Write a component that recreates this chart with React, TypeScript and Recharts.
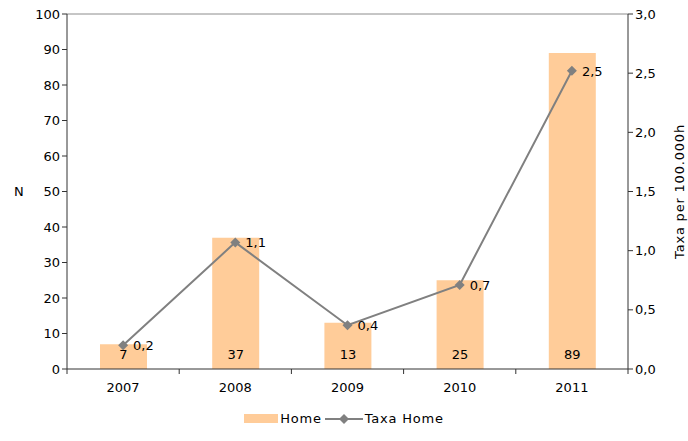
import {
  ComposedChart,
  Bar,
  Line,
  XAxis,
  YAxis,
  Legend,
  LabelList,
  ReferenceLine,
} from "recharts";

const years = ["2007", "2008", "2009", "2010", "2011"];
const homeCounts = [7, 37, 13, 25, 89];
const homeRates = [0.2, 1.07, 0.37, 0.71, 2.52];
const leftTicks = [0, 10, 20, 30, 40, 50, 60, 70, 80, 90, 100];
const rightTicks = [0, 0.5, 1, 1.5, 2, 2.5, 3];

const data = years.map((year, i) => ({
  year,
  home: homeCounts[i],
  taxa: homeRates[i],
}));

const W = 688;
const H = 441;
const LEFT_W = 67;
const RIGHT_W = 60;
const FONT = "'DejaVu Sans', Verdana, sans-serif";
const BAR_COLOR = "#ffcc99";
const LINE_COLOR = "#808080";
const AXIS_COLOR = "#333333";

const comma = (v: number) => v.toFixed(1).replace(".", ",");

const step = (W - LEFT_W - RIGHT_W) / years.length;

function YearTick(props: any) {
  const { x, y, payload, index } = props;
  return (
    <g>
      <line x1={x - step / 2} x2={x - step / 2} y1={y - 8} y2={y - 3} stroke={AXIS_COLOR} />
      {index === years.length - 1 && (
        <line x1={x + step / 2} x2={x + step / 2} y1={y - 8} y2={y - 3} stroke={AXIS_COLOR} />
      )}
      <text x={x} y={y + 15} textAnchor="middle" fontSize={13} fill="#000">
        {payload.value}
      </text>
    </g>
  );
}

function BarValue(props: any) {
  const { x, y, width, height, value } = props;
  return (
    <text x={x + width / 2} y={y + height - 10} textAnchor="middle" fontSize={13} fill="#000">
      {value}
    </text>
  );
}

function RateValue(props: any) {
  const { x, y, value } = props;
  return (
    <text x={x + 10} y={y + 5} textAnchor="start" fontSize={13} fill="#000">
      {comma(value)}
    </text>
  );
}

function RightTitle(props: any) {
  const { viewBox } = props;
  const x = viewBox.x + viewBox.width - 4;
  const y = viewBox.y + viewBox.height / 2;
  return (
    <text
      x={x}
      y={y}
      transform={`rotate(-90, ${x}, ${y})`}
      textAnchor="middle"
      fontSize={13}
      letterSpacing={0.8}
      fill="#000"
    >
      Taxa per 100.000h
    </text>
  );
}

function Diamond(props: any) {
  const { cx, cy } = props;
  if (cx == null || cy == null) return null;
  return (
    <path
      d={`M${cx},${cy - 5}L${cx + 5},${cy}L${cx},${cy + 5}L${cx - 5},${cy}Z`}
      fill={LINE_COLOR}
    />
  );
}

function LegendBox() {
  return (
    <div
      style={{
        display: "flex",
        justifyContent: "center",
        alignItems: "center",
        fontSize: 13,
        letterSpacing: 0.8,
        fontFamily: FONT,
        color: "#000",
      }}
    >
      <span style={{ display: "inline-block", width: 34, height: 9, background: BAR_COLOR, marginRight: 2 }} />
      <span style={{ marginRight: 3 }}>Home</span>
      <svg width={38} height={12} style={{ marginRight: 2 }}>
        <line x1={0} x2={38} y1={6} y2={6} stroke={LINE_COLOR} strokeWidth={2} />
        <path d="M19,1L24,6L19,11L14,6Z" fill={LINE_COLOR} />
      </svg>
      <span>Taxa Home</span>
    </div>
  );
}

export default function App() {
  return (
    <div style={{ position: "absolute", left: 0, top: 0, width: W, height: H, background: "#fff", fontFamily: FONT }}>
      <ComposedChart
        width={W}
        height={H}
        data={data}
        margin={{ top: 14, right: 0, bottom: 0, left: 0 }}
        style={{ fontFamily: FONT }}
      >
        <XAxis
          dataKey="year"
          height={42}
          stroke={AXIS_COLOR}
          tickLine={false}
          tick={<YearTick />}
          interval={0}
        />
        <YAxis
          yAxisId="left"
          width={LEFT_W}
          domain={[0, 100]}
          ticks={leftTicks}
          interval={0}
          stroke={AXIS_COLOR}
          tickSize={5}
          tick={{ fontSize: 13, fill: "#000" }}
          label={{ value: "N", position: "insideLeft", offset: 14, fontSize: 13, fill: "#000" }}
        />
        <YAxis
          yAxisId="right"
          orientation="right"
          width={RIGHT_W}
          domain={[0, 3]}
          ticks={rightTicks}
          interval={0}
          stroke={AXIS_COLOR}
          tickSize={5}
          tickFormatter={comma}
          tick={{ fontSize: 13, fill: "#000" }}
          label={<RightTitle />}
        />
        <ReferenceLine yAxisId="left" y={100} stroke="#8c8c8c" />
        <Bar yAxisId="left" dataKey="home" fill={BAR_COLOR} barSize={47} isAnimationActive={false}>
          <LabelList dataKey="home" content={<BarValue />} />
        </Bar>
        <Line
          yAxisId="right"
          dataKey="taxa"
          stroke={LINE_COLOR}
          strokeWidth={2}
          dot={<Diamond />}
          activeDot={false}
          isAnimationActive={false}
        >
          <LabelList dataKey="taxa" content={<RateValue />} />
        </Line>
        <Legend verticalAlign="bottom" height={30} content={<LegendBox />} />
      </ComposedChart>
    </div>
  );
}
